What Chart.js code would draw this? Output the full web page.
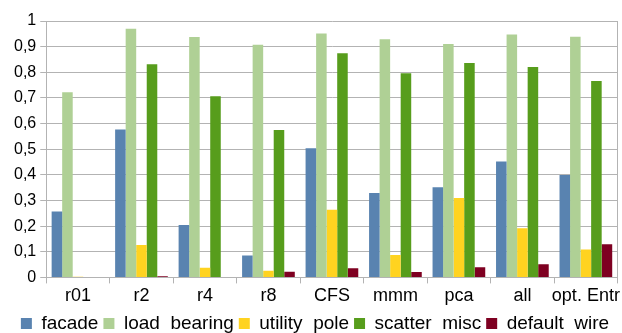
<html><head><meta charset="utf-8">
<script src="https://cdn.jsdelivr.net/npm/chart.js@4.4.0/dist/chart.umd.min.js"></script>
<style>
 body { margin:0; background:#fff; }
 #box { position:relative; width:622px; height:333px; }
</style>
</head>
<body>
<div id="box"><canvas id="myChart"></canvas></div>
<script>
// categories and series
var categories = ['r01', 'r2', 'r4', 'r8', 'CFS', 'mmm', 'pca', 'all', 'opt. Entr'];
var facade      = [0.257, 0.577, 0.204, 0.085, 0.504, 0.329, 0.352, 0.452, 0.399];
var loadBearing = [0.722, 0.970, 0.938, 0.907, 0.951, 0.929, 0.910, 0.947, 0.939];
var utilityPole = [0.003, 0.126, 0.038, 0.026, 0.264, 0.087, 0.310, 0.192, 0.109];
var scatterMisc = [0.002, 0.831, 0.707, 0.575, 0.874, 0.796, 0.836, 0.821, 0.766];
var defaultWire = [0.000, 0.004, 0.002, 0.022, 0.036, 0.021, 0.040, 0.051, 0.129];
var yTickLabels = ['0', '0,1', '0,2', '0,3', '0,4', '0,5', '0,6', '0,7', '0,8', '0,9', '1'];

var font = 'Liberation Sans, Arial, sans-serif';
var gridCol = '#b3b3b3';

function series(label, data, color) {
  return { label: label, data: data, backgroundColor: color, borderWidth: 0,
           categoryPercentage: 0.83, barPercentage: 1.0 };
}

var ctx = document.getElementById('myChart');
var myChart = new Chart(ctx, {
  type: 'bar',
  data: {
    labels: categories,
    datasets: [
      series('facade', facade, '#5983b0'),
      series('load  bearing', loadBearing, '#afd095'),
      series('utility  pole', utilityPole, '#ffd320'),
      series('scatter  misc', scatterMisc, '#579d1c'),
      series('default  wire', defaultWire, '#7e0021')
    ]
  },
  options: {
    responsive: true,
    maintainAspectRatio: false,
    animation: false,
    layout: { padding: { left: 10, right: 2, top: 21, bottom: -10 } },
    plugins: {
      tooltip: { enabled: false },
      legend: {
        position: 'bottom',
        labels: { boxWidth: 11, boxHeight: 11, padding: 5, color: '#000',
                  font: { family: font, size: 19 } }
      }
    },
    scales: {
      x: {
        offset: true,
        grid: { offset: true, drawOnChartArea: false, color: gridCol, tickLength: 6 },
        border: { color: gridCol },
        ticks: { color: '#000', padding: 2, font: { family: font, size: 18 }, maxRotation: 0, autoSkip: false }
      },
      y: {
        min: 0, max: 1,
        grid: { color: gridCol, tickLength: 6 },
        border: { color: gridCol },
        ticks: { stepSize: 0.1, color: '#000', padding: 4, font: { family: font, size: 16 },
                 callback: function (v, i) { return yTickLabels[i]; } }
      },
      yR: {
        position: 'right', min: 0, max: 1,
        grid: { display: false, drawTicks: false },
        border: { color: gridCol },
        ticks: { display: false }
      }
    }
  }
});
</script>
</body></html>
